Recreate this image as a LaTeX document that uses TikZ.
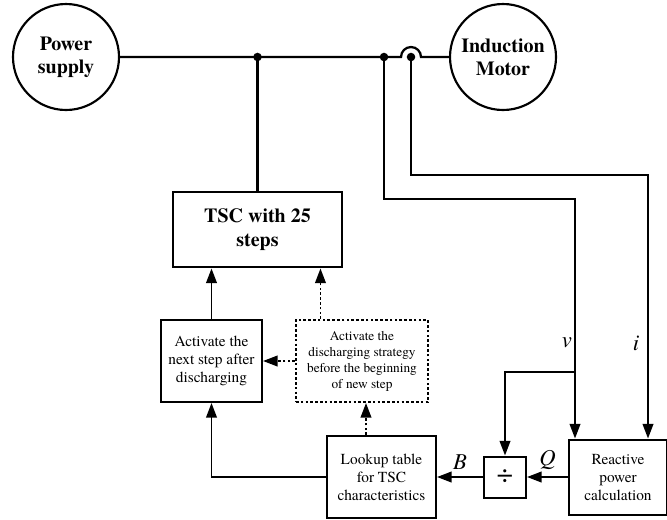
\documentclass[tikz,border=0pt]{standalone}
\usepackage{fontspec}
\setmainfont{texgyretermes}[Extension=.otf, UprightFont=*-regular, BoldFont=*-bold, ItalicFont=*-italic, BoldItalicFont=*-bolditalic]
\usetikzlibrary{arrows.meta, positioning, calc}

\begin{document}
\begin{tikzpicture}[
        x=0.75pt, y=-0.75pt,
        >={Triangle[length=11pt, width=8pt]},
        wire/.style={line width=1.4pt},
        dotwire/.style={line width=1.4pt, dash pattern=on 2pt off 1.6pt},
        machine/.style={circle, draw, line width=1.6pt, minimum size=79.5pt, inner sep=0pt, align=center, font=\fontsize{15}{17.5}\selectfont\bfseries},
        box/.style={rectangle, draw, line width=1.5pt, align=center, inner sep=1pt, font=\fontsize{11.5}{13.5}\selectfont},
        dotbox/.style={box, dash pattern=on 2pt off 1.6pt, font=\fontsize{10}{12}\selectfont},
        sig/.style={font=\fontsize{17}{17}\selectfont\itshape, inner sep=1pt}
    ]
    \useasboundingbox (0,0) rectangle (667,519);

    \node[machine] (supply) at (66,57) {Power\\supply};
    \node[machine] (motor) at (503,57) {Induction\\Motor};
    \node[box, line width=2.2pt, minimum width=126.75pt, minimum height=56.25pt, font=\fontsize{15}{17.5}\selectfont\bfseries] (tsc) at (257.5,229.5) {TSC with 25\\steps};
    \node[box, minimum width=75.75pt, minimum height=61.5pt] (next) at (211.5,361) {Activate the\\next step after\\discharging};
    \node[dotbox, minimum width=99pt, minimum height=61.5pt, right=24pt of next] (strategy) {Activate the\\discharging strategy\\before the beginning\\of new step};
    \node[box, minimum width=81.75pt, minimum height=61.5pt] (lookup) at (381.5,477) {Lookup table\\for TSC\\characteristics};
    \node[box, minimum width=31.5pt, minimum height=30.75pt, right=34.5pt of lookup, font=\fontsize{22}{22}\selectfont] (div) {÷};
    \node[box, minimum width=73.5pt, minimum height=56.25pt, right=30.75pt of div] (react) {Reactive\\power\\calculation};

    % Bus taps
    \coordinate (tap) at (tsc.north |- supply.east);
    \coordinate (vtap) at (384,57);
    \coordinate (itap) at (411,57);
    \coordinate (vturn) at (575,199);
    \coordinate (vsplit) at (575,372);
    \coordinate (iturn) at (648,175);
    \coordinate (tscin) at ($(tsc.south east)+(-23,0)$);

    \draw[line width=1.7pt] (supply.east) -- (vtap) -- ($(itap)+(-10,0)$) arc[start angle=180, end angle=0, radius=7.5pt] -- (motor.west);
    \foreach \p in {tap, vtap, itap}
        \fill (\p) circle[radius=3.2pt];

    % Measurements
    \draw[line width=1.7pt] (tap) -- (tsc.north);
    \draw[wire, ->] (vtap) |- (vturn) -- (vturn |- react.north);
    \draw[wire, ->] (itap) |- (iturn) -- (iturn |- react.north);
    \draw[wire, ->] (vsplit) -| (div.north);
    \node[sig] (vlabel) at (567,343) {v};
    \node[sig] (ilabel) at (636,343) {i};

    % Control path
    \draw[wire, ->] (react.west) -- node[sig, above=4pt] {Q} (div.east);
    \draw[wire, ->] (div.west) -- node[sig, above=4pt] {B} (lookup.east);
    \draw[wire, ->] (lookup.west) -| (next.south);
    \draw[dotwire, ->] ($(lookup.north -| strategy.south)+(4,0)$) -- ($(strategy.south)+(4,0)$);
    \draw[dotwire, ->] (strategy.west) -- (next.east);
    \draw[wire, ->] (next.north) -- (next.north |- tsc.south);
    \draw[dotwire, ->] (strategy.north -| tscin) -- (tscin);

\end{tikzpicture}
\end{document}
